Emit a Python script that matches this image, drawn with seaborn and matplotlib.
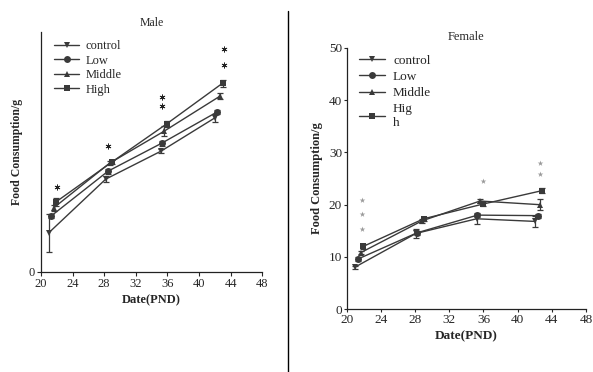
import numpy as np
import pandas as pd
import matplotlib
matplotlib.use("Agg")
import matplotlib.pyplot as plt
import seaborn as sns

groups = ["control", "Low", "Middle", "High"]
markers = {"control": "v", "Low": "o", "Middle": "^", "High": "s"}

# male (no y scale shown in the original, arbitrary units 0-60)
male_x = {"control": [21.0, 28.2, 35.2, 42.0],
          "Low": [21.3, 28.5, 35.3, 42.3],
          "Middle": [21.6, 28.7, 35.6, 42.7],
          "High": [21.9, 29.0, 35.9, 43.0]}
male_y = {"control": [9.8, 23.2, 30.2, 38.5],
          "Low": [14.0, 25.2, 32.2, 40.0],
          "Middle": [16.0, 27.2, 35.2, 44.0],
          "High": [17.5, 27.5, 37.0, 47.2]}
male_err = {"control": [4.7, 0.8, 0.5, 0.9],
            "Low": [0.5, 0.6, 0.6, 0.5],
            "Middle": [0.8, 0.5, 1.2, 0.8],
            "High": [1.1, 0.5, 0.8, 0.9]}
male_star_x = [22.0, 28.5, 35.3, 35.3, 43.2, 43.2]
male_star_y = [21.3, 31.5, 41.5, 43.8, 51.8, 55.8]

# female
fem_x = {"control": [20.9, 28.1, 35.2, 42.0],
         "Low": [21.3, 28.2, 35.3, 42.4],
         "Middle": [21.6, 28.8, 35.6, 42.6],
         "High": [21.9, 29.0, 35.9, 42.9]}
fem_y = {"control": [8.0, 14.5, 17.3, 16.8],
         "Low": [9.6, 14.6, 18.0, 17.9],
         "Middle": [10.8, 16.9, 20.7, 20.0],
         "High": [12.0, 17.3, 20.1, 22.7]}
fem_err = {"control": [0.3, 0.8, 1.0, 1.0],
           "Low": [0.3, 0.4, 0.4, 0.4],
           "Middle": [0.3, 0.4, 0.4, 1.0],
           "High": [0.4, 0.4, 0.4, 0.5]}
fem_star_x = [21.8, 21.8, 21.8, 36.0, 42.6, 42.6]
fem_star_y = [15.3, 18.2, 20.9, 24.5, 25.9, 28.0]

sns.set_style("ticks")
plt.rcParams["font.family"] = ["Liberation Serif", "DejaVu Serif"]
plt.rcParams["font.size"] = 8

line_col = "#3a3a3a"

fig = plt.figure(figsize=(5.93, 3.72), dpi=100)
ax1 = fig.add_axes([0.069, 0.269, 0.373, 0.645])
ax2 = fig.add_axes([0.585, 0.169, 0.403, 0.702])


def draw(ax, xs, ys, errs, label_map):
    rows = []
    for g in groups:
        for x, y in zip(xs[g], ys[g]):
            rows.append({"day": x, "food": y, "group": label_map[g]})
    df = pd.DataFrame(rows)
    sns.lineplot(data=df, x="day", y="food", hue="group", style="group",
                 markers={label_map[g]: markers[g] for g in groups},
                 dashes=False, palette={label_map[g]: line_col for g in groups},
                 markersize=5, linewidth=1.0, markeredgewidth=0,
                 ax=ax, sort=False, estimator=None)
    for g in groups:
        ax.errorbar(xs[g], ys[g], yerr=errs[g], fmt="none",
                    ecolor=line_col, elinewidth=0.9, capsize=2, capthick=0.9)


draw(ax1, male_x, male_y, male_err, {g: g for g in groups})
fem_labels = {"control": "control", "Low": "Low", "Middle": "Middle", "High": "Hig\nh"}
draw(ax2, fem_x, fem_y, fem_err, fem_labels)

ax1.scatter(male_star_x, male_star_y, marker=(6, 2, 0), s=14, color="#222222", linewidths=0.6)
ax2.scatter(fem_star_x, fem_star_y, marker="*", s=18, color="#9a9a9a", linewidths=0)

for ax, fs in ((ax1, 9), (ax2, 9.5)):
    sns.despine(ax=ax)
    ax.set_xlim(20, 48)
    ax.set_xticks(range(20, 49, 4))
    ax.set_xlabel("Date(PND)", fontweight="bold", fontsize=fs, labelpad=3)
    ax.set_ylabel("Food Consumption/g", fontweight="bold", fontsize=fs - 0.5)
    ax.tick_params(length=3, width=0.8, pad=1.5, labelsize=fs)
    for s in ("left", "bottom"):
        ax.spines[s].set_linewidth(0.9)
        ax.spines[s].set_color("#222222")

ax1.set_ylim(0, 60)
ax1.set_yticks([0])
ax1.set_title("Male", fontsize=8.5, pad=4)
ax1.legend(frameon=False, loc="upper left", bbox_to_anchor=(0.01, 1.013),
           handlelength=2.0, handletextpad=0.5, labelspacing=0.2,
           fontsize=9, title=None)

ax2.set_ylim(0, 50)
ax2.set_yticks(range(0, 51, 10))
ax2.tick_params(length=2)
ax2.set_title("Female", fontsize=9, pad=6)
ax2.legend(frameon=False, loc="upper left", bbox_to_anchor=(0.0, 1.02),
           handlelength=2.0, handletextpad=0.6, labelspacing=0.3,
           fontsize=9.5, title=None)

fig.add_artist(plt.Line2D([0.486, 0.486], [0.0, 0.97], color="black", linewidth=1.0,
                          transform=fig.transFigure))

fig.savefig("out.png", dpi=100)
